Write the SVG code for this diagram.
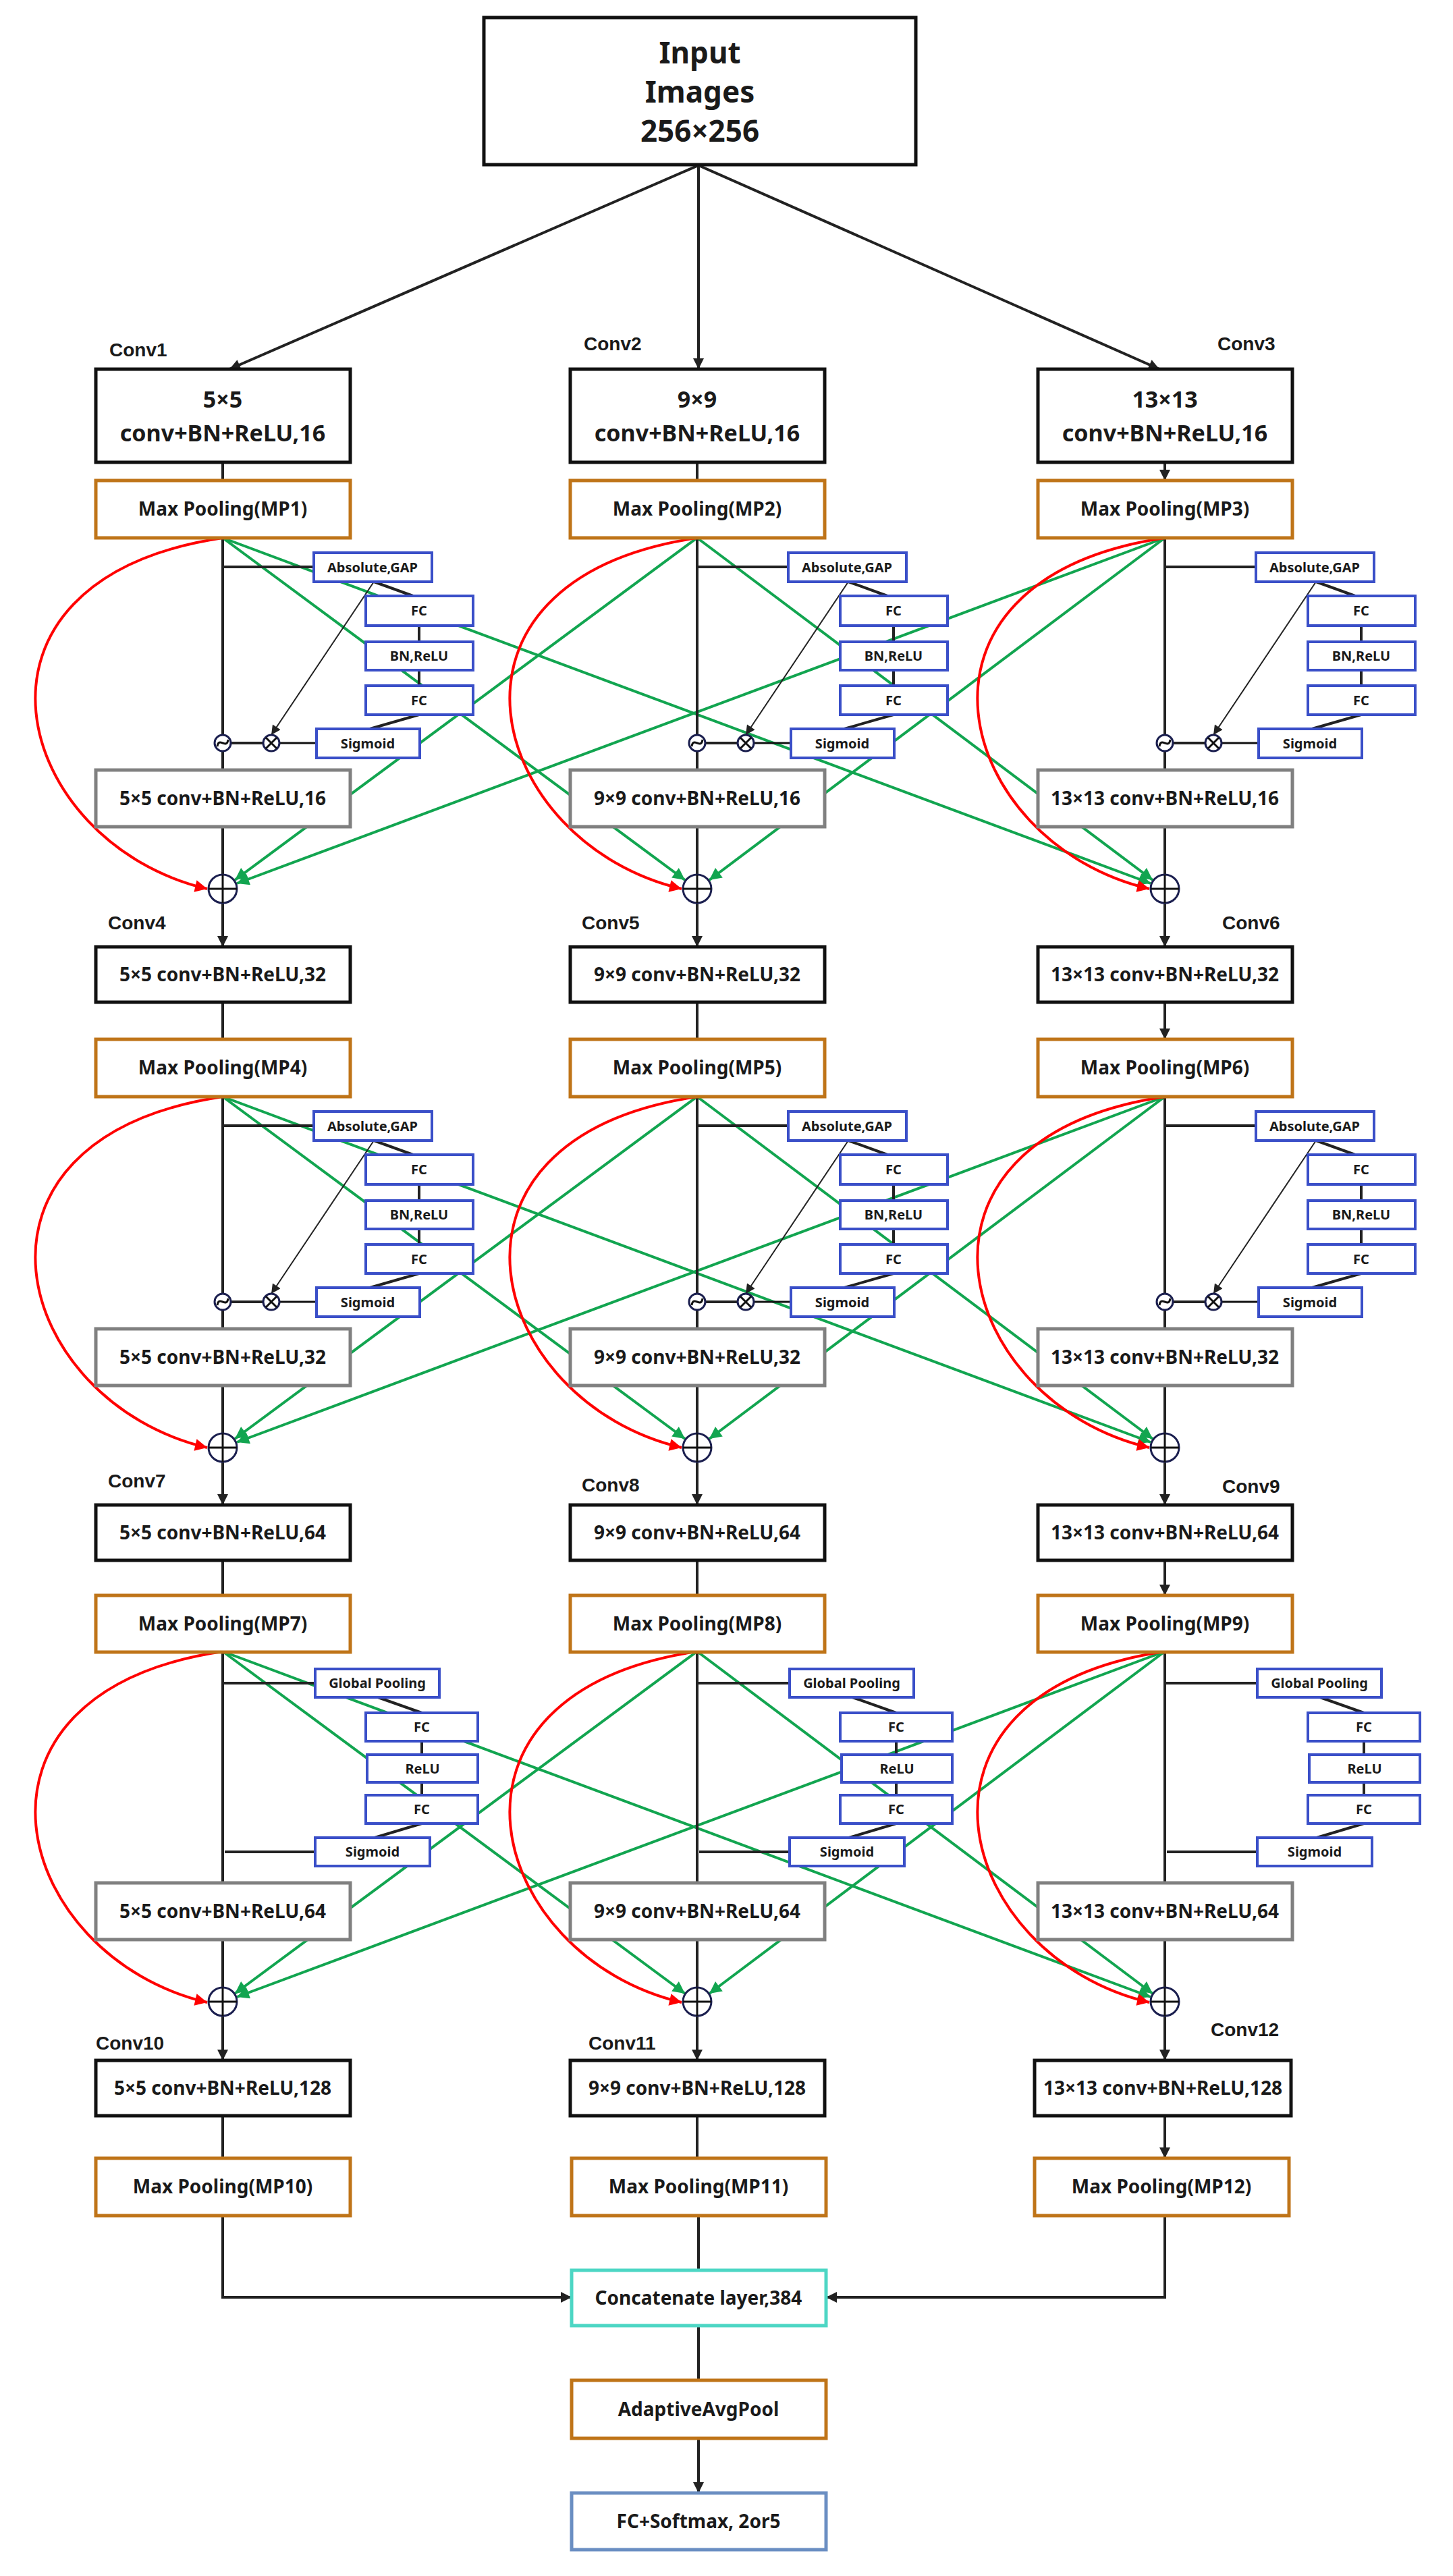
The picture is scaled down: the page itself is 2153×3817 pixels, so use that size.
<svg xmlns="http://www.w3.org/2000/svg" width="2153" height="3817" viewBox="0 0 2153 3817">
<style>
text{font-family:"Noto Sans","DejaVu Sans",sans-serif;font-weight:bold;fill:#1a1a1a;text-anchor:middle}
.lbl{font-family:"Liberation Sans",Arial,sans-serif;font-size:28px;text-anchor:start}
.bk{fill:#fff;stroke:#111;stroke-width:5}
.mp{fill:#fff;stroke:#bf7418;stroke-width:5}
.gr{fill:#fff;stroke:#808080;stroke-width:5}
.se{fill:#fff;stroke:#3a4fc8;stroke-width:4}
.t28{font-size:28px}.t20{font-size:20px}
.cir{fill:#fff;stroke:#1b1f4f;stroke-width:3}
.cl{stroke:#111;stroke-width:3;fill:none}
.a{stroke:#222;stroke-width:4;fill:none;marker-end:url(#ab)}
.at{stroke:#222;stroke-width:2;fill:none;marker-end:url(#as)}
.g{stroke:#12a550;stroke-width:4;fill:none;marker-end:url(#ag)}
.r{stroke:#f00;stroke-width:4;fill:none;marker-end:url(#ar)}
</style>
<defs>
<marker id="ab" viewBox="0 0 10 10" refX="10" refY="5" markerWidth="20" markerHeight="16" markerUnits="userSpaceOnUse" orient="auto"><path d="M0,0L10,5L0,10z" fill="#222"/></marker>
<marker id="as" viewBox="0 0 10 10" refX="10" refY="5" markerWidth="18" markerHeight="14" markerUnits="userSpaceOnUse" orient="auto"><path d="M0,0L10,5L0,10z" fill="#222"/></marker>
<marker id="ag" viewBox="0 0 10 10" refX="10" refY="5" markerWidth="24" markerHeight="18" markerUnits="userSpaceOnUse" orient="auto"><path d="M0,0L10,5L0,10z" fill="#12a550"/></marker>
<marker id="ar" viewBox="0 0 10 10" refX="10" refY="5" markerWidth="24" markerHeight="18" markerUnits="userSpaceOnUse" orient="auto"><path d="M0,0L10,5L0,10z" fill="#f00"/></marker>
<g id="gx"><circle class="cir" cx="0" cy="0" r="12"/><path class="cl" d="M-8,-8L8,8M8,-8L-8,8" stroke-width="2.5"/></g>
<g id="gt"><circle class="cir" cx="0" cy="0" r="12"/><path class="cl" d="M-8,5C-6,-10 6,10 8,-5" stroke-width="2.5"/></g>
<g id="gp"><circle class="cir" cx="0" cy="0" r="21"/><path class="cl" d="M-21,0H21M0,-21V21"/></g>
</defs>
<rect width="2153" height="3817" fill="#fff"/>

<g id="connectors">
<!-- input -->
<path class="a" d="M1035,245L340,547"/>
<path class="a" d="M1035,245L1035,547"/>
<path class="a" d="M1035,245L1718,547"/>
<!-- conv to MP -->
<path class="a" d="M330,685V712M1033,685V712M1726,685V712"/>
<path class="a" d="M330,1485V1540M1033,1485V1540M1726,1485V1540"/>
<path class="a" d="M330,2312V2364M1033,2312V2364M1726,2312V2364"/>
<path class="a" d="M330,3135V3198M1033,3135V3198M1726,3135V3198"/>
<!-- green and red cross connections, rows 1-3 -->
<g id="cross1">
<path class="g" d="M330,797L1015,1304"/><path class="g" d="M330,797L1705,1309"/>
<path class="g" d="M1033,797L348,1304"/><path class="g" d="M1033,797L1708,1304"/>
<path class="g" d="M1726,797L351,1309"/><path class="g" d="M1726,797L1051,1304"/>
<path class="r" d="M330,797C-90,860 20,1250 307,1317"/>
<path class="r" d="M1033,797C613,860 723,1250 1010,1317"/>
<path class="r" d="M1726,797C1306,860 1416,1250 1703,1317"/>
</g>
<g id="cross2" transform="translate(0,828)">
<path class="g" d="M330,797L1015,1304"/><path class="g" d="M330,797L1705,1309"/>
<path class="g" d="M1033,797L348,1304"/><path class="g" d="M1033,797L1708,1304"/>
<path class="g" d="M1726,797L351,1309"/><path class="g" d="M1726,797L1051,1304"/>
<path class="r" d="M330,797C-90,860 20,1250 307,1317"/>
<path class="r" d="M1033,797C613,860 723,1250 1010,1317"/>
<path class="r" d="M1726,797C1306,860 1416,1250 1703,1317"/>
</g>
<g id="cross3" transform="translate(0,1650)">
<path class="g" d="M330,797L1015,1304"/><path class="g" d="M330,797L1705,1309"/>
<path class="g" d="M1033,797L348,1304"/><path class="g" d="M1033,797L1708,1304"/>
<path class="g" d="M1726,797L351,1309"/><path class="g" d="M1726,797L1051,1304"/>
<path class="r" d="M330,797C-90,860 20,1250 307,1317"/>
<path class="r" d="M1033,797C613,860 723,1250 1010,1317"/>
<path class="r" d="M1726,797C1306,860 1416,1250 1703,1317"/>
</g>
<!-- SE attention connectors rows 1-2 -->
<g id="se-conn-r1c1" transform="translate(330,0)">
<path class="a" d="M0,797V1089M0,840H135M224,862L282,883M291,927V951M291,993V1016M291,1059L218,1080M60,1101H12M0,1113V1141M0,1225V1296M0,1338V1403"/>
<path class="at" d="M224,862L72,1089"/><path class="cl" d="M139,1101H84" stroke-width="4"/>
</g>
<g id="se-conn-r1c2" transform="translate(1033,0)">
<path class="a" d="M0,797V1089M0,840H135M224,862L282,883M291,927V951M291,993V1016M291,1059L218,1080M60,1101H12M0,1113V1141M0,1225V1296M0,1338V1403"/>
<path class="at" d="M224,862L72,1089"/><path class="cl" d="M139,1101H84" stroke-width="4"/>
</g>
<g id="se-conn-r1c3" transform="translate(1726,0)">
<path class="a" d="M0,797V1089M0,840H135M224,862L282,883M291,927V951M291,993V1016M291,1059L218,1080M60,1101H12M0,1113V1141M0,1225V1296M0,1338V1403"/>
<path class="at" d="M224,862L72,1089"/><path class="cl" d="M139,1101H84" stroke-width="4"/>
</g>
<g id="se-conn-r2c1" transform="translate(330,828)">
<path class="a" d="M0,797V1089M0,840H135M224,862L282,883M291,927V951M291,993V1016M291,1059L218,1080M60,1101H12M0,1113V1141M0,1225V1296M0,1338V1402"/>
<path class="at" d="M224,862L72,1089"/><path class="cl" d="M139,1101H84" stroke-width="4"/>
</g>
<g id="se-conn-r2c2" transform="translate(1033,828)">
<path class="a" d="M0,797V1089M0,840H135M224,862L282,883M291,927V951M291,993V1016M291,1059L218,1080M60,1101H12M0,1113V1141M0,1225V1296M0,1338V1402"/>
<path class="at" d="M224,862L72,1089"/><path class="cl" d="M139,1101H84" stroke-width="4"/>
</g>
<g id="se-conn-r2c3" transform="translate(1726,828)">
<path class="a" d="M0,797V1089M0,840H135M224,862L282,883M291,927V951M291,993V1016M291,1059L218,1080M60,1101H12M0,1113V1141M0,1225V1296M0,1338V1402"/>
<path class="at" d="M224,862L72,1089"/><path class="cl" d="M139,1101H84" stroke-width="4"/>
</g>
<!-- row 3 SE connectors -->
<g id="se-conn-r3c1" transform="translate(330,0)">
<path class="a" d="M0,2448V2790M0,2494H137M230,2515L295,2538M295,2580V2600M295,2641V2660M295,2702L225,2723M137,2744H3M0,2874V2945M0,2987V3053"/>
</g>
<g id="se-conn-r3c2" transform="translate(1033,0)">
<path class="a" d="M0,2448V2790M0,2494H137M230,2515L295,2538M295,2580V2600M295,2641V2660M295,2702L225,2723M137,2744H3M0,2874V2945M0,2987V3053"/>
</g>
<g id="se-conn-r3c3" transform="translate(1726,0)">
<path class="a" d="M0,2448V2790M0,2494H137M230,2515L295,2538M295,2580V2600M295,2641V2660M295,2702L225,2723M137,2744H3M0,2874V2945M0,2987V3053"/>
</g>
<!-- bottom -->
<path class="a" d="M330,3283V3404H847"/>
<path class="a" d="M1726,3283V3404H1224"/>
<path class="a" d="M1035,3283V3364M1035,3446V3527M1035,3613V3694"/>
</g>

<g id="input"><rect class="bk" x="717" y="26" width="640" height="218"/>
<text x="1037" y="94" font-size="44">Input</text><text x="1037" y="152" font-size="44">Images</text><text x="1037" y="210" font-size="44">256×256</text></g>

<g id="labels">
<text class="lbl" x="162" y="528">Conv1</text><text class="lbl" x="865" y="519">Conv2</text><text class="lbl" x="1804" y="519">Conv3</text>
<text class="lbl" x="160" y="1377">Conv4</text><text class="lbl" x="862" y="1377">Conv5</text><text class="lbl" x="1811" y="1377">Conv6</text>
<text class="lbl" x="160" y="2204">Conv7</text><text class="lbl" x="862" y="2210">Conv8</text><text class="lbl" x="1811" y="2212">Conv9</text>
<text class="lbl" x="142" y="3037">Conv10</text><text class="lbl" x="872" y="3037">Conv11</text><text class="lbl" x="1794" y="3017">Conv12</text>
</g>

<!-- row 1 conv -->
<g id="conv1"><rect class="bk" x="142" y="547" width="377" height="138"/><text x="330" y="604" font-size="34">5×5</text><text x="330" y="654" font-size="34">conv+BN+ReLU,16</text></g>
<g id="conv2"><rect class="bk" x="845" y="547" width="377" height="138"/><text x="1033" y="604" font-size="34">9×9</text><text x="1033" y="654" font-size="34">conv+BN+ReLU,16</text></g>
<g id="conv3"><rect class="bk" x="1538" y="547" width="377" height="138"/><text x="1726" y="604" font-size="34">13×13</text><text x="1726" y="654" font-size="34">conv+BN+ReLU,16</text></g>

<!-- MP boxes -->
<g id="mp1"><rect class="mp" x="142" y="712" width="377" height="85"/><text class="t28" x="330" y="764">Max Pooling(MP1)</text></g>
<g id="mp2"><rect class="mp" x="845" y="712" width="377" height="85"/><text class="t28" x="1033" y="764">Max Pooling(MP2)</text></g>
<g id="mp3"><rect class="mp" x="1538" y="712" width="377" height="85"/><text class="t28" x="1726" y="764">Max Pooling(MP3)</text></g>
<g id="mp4"><rect class="mp" x="142" y="1540" width="377" height="85"/><text class="t28" x="330" y="1592">Max Pooling(MP4)</text></g>
<g id="mp5"><rect class="mp" x="845" y="1540" width="377" height="85"/><text class="t28" x="1033" y="1592">Max Pooling(MP5)</text></g>
<g id="mp6"><rect class="mp" x="1538" y="1540" width="377" height="85"/><text class="t28" x="1726" y="1592">Max Pooling(MP6)</text></g>
<g id="mp7"><rect class="mp" x="142" y="2364" width="377" height="84"/><text class="t28" x="330" y="2416">Max Pooling(MP7)</text></g>
<g id="mp8"><rect class="mp" x="845" y="2364" width="377" height="84"/><text class="t28" x="1033" y="2416">Max Pooling(MP8)</text></g>
<g id="mp9"><rect class="mp" x="1538" y="2364" width="377" height="84"/><text class="t28" x="1726" y="2416">Max Pooling(MP9)</text></g>
<g id="mp10"><rect class="mp" x="142" y="3198" width="377" height="85"/><text class="t28" x="330" y="3250">Max Pooling(MP10)</text></g>
<g id="mp11"><rect class="mp" x="847" y="3198" width="377" height="85"/><text class="t28" x="1035" y="3250">Max Pooling(MP11)</text></g>
<g id="mp12"><rect class="mp" x="1533" y="3198" width="377" height="85"/><text class="t28" x="1721" y="3250">Max Pooling(MP12)</text></g>

<!-- SE rows 1-2 -->
<g id="se-r1c1" transform="translate(330,0)">
<g id="abs1"><rect class="se" x="135" y="819" width="175" height="43"/><text class="t20" x="222" y="848">Absolute,GAP</text></g>
<g id="fc1a"><rect class="se" x="212" y="883" width="159" height="44"/><text class="t20" x="291" y="912">FC</text></g>
<g id="bn1"><rect class="se" x="212" y="951" width="159" height="42"/><text class="t20" x="291" y="979">BN,ReLU</text></g>
<g id="fc1b"><rect class="se" x="212" y="1016" width="159" height="43"/><text class="t20" x="291" y="1045">FC</text></g>
<g id="sig1"><rect class="se" x="139" y="1080" width="153" height="43"/><text class="t20" x="215" y="1109">Sigmoid</text></g>
<use href="#gx" x="72" y="1101"/><use href="#gt" x="0" y="1101"/>
</g>
<g id="se-r1c2" transform="translate(1033,0)">
<g id="abs2"><rect class="se" x="135" y="819" width="175" height="43"/><text class="t20" x="222" y="848">Absolute,GAP</text></g>
<g id="fc2a"><rect class="se" x="212" y="883" width="159" height="44"/><text class="t20" x="291" y="912">FC</text></g>
<g id="bn2"><rect class="se" x="212" y="951" width="159" height="42"/><text class="t20" x="291" y="979">BN,ReLU</text></g>
<g id="fc2b"><rect class="se" x="212" y="1016" width="159" height="43"/><text class="t20" x="291" y="1045">FC</text></g>
<g id="sig2"><rect class="se" x="139" y="1080" width="153" height="43"/><text class="t20" x="215" y="1109">Sigmoid</text></g>
<use href="#gx" x="72" y="1101"/><use href="#gt" x="0" y="1101"/>
</g>
<g id="se-r1c3" transform="translate(1726,0)">
<g id="abs3"><rect class="se" x="135" y="819" width="175" height="43"/><text class="t20" x="222" y="848">Absolute,GAP</text></g>
<g id="fc3a"><rect class="se" x="212" y="883" width="159" height="44"/><text class="t20" x="291" y="912">FC</text></g>
<g id="bn3"><rect class="se" x="212" y="951" width="159" height="42"/><text class="t20" x="291" y="979">BN,ReLU</text></g>
<g id="fc3b"><rect class="se" x="212" y="1016" width="159" height="43"/><text class="t20" x="291" y="1045">FC</text></g>
<g id="sig3"><rect class="se" x="139" y="1080" width="153" height="43"/><text class="t20" x="215" y="1109">Sigmoid</text></g>
<use href="#gx" x="72" y="1101"/><use href="#gt" x="0" y="1101"/>
</g>
<g id="se-r2c1" transform="translate(330,828)">
<g id="abs4"><rect class="se" x="135" y="819" width="175" height="43"/><text class="t20" x="222" y="848">Absolute,GAP</text></g>
<g id="fc4a"><rect class="se" x="212" y="883" width="159" height="44"/><text class="t20" x="291" y="912">FC</text></g>
<g id="bn4"><rect class="se" x="212" y="951" width="159" height="42"/><text class="t20" x="291" y="979">BN,ReLU</text></g>
<g id="fc4b"><rect class="se" x="212" y="1016" width="159" height="43"/><text class="t20" x="291" y="1045">FC</text></g>
<g id="sig4"><rect class="se" x="139" y="1080" width="153" height="43"/><text class="t20" x="215" y="1109">Sigmoid</text></g>
<use href="#gx" x="72" y="1101"/><use href="#gt" x="0" y="1101"/>
</g>
<g id="se-r2c2" transform="translate(1033,828)">
<g id="abs5"><rect class="se" x="135" y="819" width="175" height="43"/><text class="t20" x="222" y="848">Absolute,GAP</text></g>
<g id="fc5a"><rect class="se" x="212" y="883" width="159" height="44"/><text class="t20" x="291" y="912">FC</text></g>
<g id="bn5"><rect class="se" x="212" y="951" width="159" height="42"/><text class="t20" x="291" y="979">BN,ReLU</text></g>
<g id="fc5b"><rect class="se" x="212" y="1016" width="159" height="43"/><text class="t20" x="291" y="1045">FC</text></g>
<g id="sig5"><rect class="se" x="139" y="1080" width="153" height="43"/><text class="t20" x="215" y="1109">Sigmoid</text></g>
<use href="#gx" x="72" y="1101"/><use href="#gt" x="0" y="1101"/>
</g>
<g id="se-r2c3" transform="translate(1726,828)">
<g id="abs6"><rect class="se" x="135" y="819" width="175" height="43"/><text class="t20" x="222" y="848">Absolute,GAP</text></g>
<g id="fc6a"><rect class="se" x="212" y="883" width="159" height="44"/><text class="t20" x="291" y="912">FC</text></g>
<g id="bn6"><rect class="se" x="212" y="951" width="159" height="42"/><text class="t20" x="291" y="979">BN,ReLU</text></g>
<g id="fc6b"><rect class="se" x="212" y="1016" width="159" height="43"/><text class="t20" x="291" y="1045">FC</text></g>
<g id="sig6"><rect class="se" x="139" y="1080" width="153" height="43"/><text class="t20" x="215" y="1109">Sigmoid</text></g>
<use href="#gx" x="72" y="1101"/><use href="#gt" x="0" y="1101"/>
</g>

<!-- SE row 3 -->
<g id="se-r3c1" transform="translate(330,0)">
<g id="gp7"><rect class="se" x="137" y="2473" width="184" height="42"/><text class="t20" x="229" y="2501">Global Pooling</text></g>
<g id="fc7a"><rect class="se" x="212" y="2538" width="166" height="42"/><text class="t20" x="295" y="2566">FC</text></g>
<g id="relu7"><rect class="se" x="214" y="2600" width="164" height="41"/><text class="t20" x="296" y="2628">ReLU</text></g>
<g id="fc7b"><rect class="se" x="212" y="2660" width="166" height="42"/><text class="t20" x="295" y="2688">FC</text></g>
<g id="sig7"><rect class="se" x="137" y="2723" width="170" height="42"/><text class="t20" x="222" y="2751">Sigmoid</text></g>
</g>
<g id="se-r3c2" transform="translate(1033,0)">
<g id="gp8"><rect class="se" x="137" y="2473" width="184" height="42"/><text class="t20" x="229" y="2501">Global Pooling</text></g>
<g id="fc8a"><rect class="se" x="212" y="2538" width="166" height="42"/><text class="t20" x="295" y="2566">FC</text></g>
<g id="relu8"><rect class="se" x="214" y="2600" width="164" height="41"/><text class="t20" x="296" y="2628">ReLU</text></g>
<g id="fc8b"><rect class="se" x="212" y="2660" width="166" height="42"/><text class="t20" x="295" y="2688">FC</text></g>
<g id="sig8"><rect class="se" x="137" y="2723" width="170" height="42"/><text class="t20" x="222" y="2751">Sigmoid</text></g>
</g>
<g id="se-r3c3" transform="translate(1726,0)">
<g id="gp9"><rect class="se" x="137" y="2473" width="184" height="42"/><text class="t20" x="229" y="2501">Global Pooling</text></g>
<g id="fc9a"><rect class="se" x="212" y="2538" width="166" height="42"/><text class="t20" x="295" y="2566">FC</text></g>
<g id="relu9"><rect class="se" x="214" y="2600" width="164" height="41"/><text class="t20" x="296" y="2628">ReLU</text></g>
<g id="fc9b"><rect class="se" x="212" y="2660" width="166" height="42"/><text class="t20" x="295" y="2688">FC</text></g>
<g id="sig9"><rect class="se" x="137" y="2723" width="170" height="42"/><text class="t20" x="222" y="2751">Sigmoid</text></g>
</g>

<!-- gray conv boxes -->
<g id="g1"><rect class="gr" x="142" y="1141" width="377" height="84"/><text class="t28" x="330" y="1193">5×5 conv+BN+ReLU,16</text></g>
<g id="g2"><rect class="gr" x="845" y="1141" width="377" height="84"/><text class="t28" x="1033" y="1193">9×9 conv+BN+ReLU,16</text></g>
<g id="g3"><rect class="gr" x="1538" y="1141" width="377" height="84"/><text class="t28" x="1726" y="1193">13×13 conv+BN+ReLU,16</text></g>
<g id="g4"><rect class="gr" x="142" y="1969" width="377" height="84"/><text class="t28" x="330" y="2021">5×5 conv+BN+ReLU,32</text></g>
<g id="g5"><rect class="gr" x="845" y="1969" width="377" height="84"/><text class="t28" x="1033" y="2021">9×9 conv+BN+ReLU,32</text></g>
<g id="g6"><rect class="gr" x="1538" y="1969" width="377" height="84"/><text class="t28" x="1726" y="2021">13×13 conv+BN+ReLU,32</text></g>
<g id="g7"><rect class="gr" x="142" y="2790" width="377" height="84"/><text class="t28" x="330" y="2842">5×5 conv+BN+ReLU,64</text></g>
<g id="g8"><rect class="gr" x="845" y="2790" width="377" height="84"/><text class="t28" x="1033" y="2842">9×9 conv+BN+ReLU,64</text></g>
<g id="g9"><rect class="gr" x="1538" y="2790" width="377" height="84"/><text class="t28" x="1726" y="2842">13×13 conv+BN+ReLU,64</text></g>

<!-- sum nodes -->
<g id="sum1"><use href="#gp" x="330" y="1317"/></g><g id="sum2"><use href="#gp" x="1033" y="1317"/></g><g id="sum3"><use href="#gp" x="1726" y="1317"/></g>
<g id="sum4"><use href="#gp" x="330" y="2145"/></g><g id="sum5"><use href="#gp" x="1033" y="2145"/></g><g id="sum6"><use href="#gp" x="1726" y="2145"/></g>
<g id="sum7"><use href="#gp" x="330" y="2966"/></g><g id="sum8"><use href="#gp" x="1033" y="2966"/></g><g id="sum9"><use href="#gp" x="1726" y="2966"/></g>

<!-- conv rows 2-4 -->
<g id="conv4"><rect class="bk" x="142" y="1403" width="377" height="82"/><text class="t28" x="330" y="1454">5×5 conv+BN+ReLU,32</text></g>
<g id="conv5"><rect class="bk" x="845" y="1403" width="377" height="82"/><text class="t28" x="1033" y="1454">9×9 conv+BN+ReLU,32</text></g>
<g id="conv6"><rect class="bk" x="1538" y="1403" width="377" height="82"/><text class="t28" x="1726" y="1454">13×13 conv+BN+ReLU,32</text></g>
<g id="conv7"><rect class="bk" x="142" y="2230" width="377" height="82"/><text class="t28" x="330" y="2281">5×5 conv+BN+ReLU,64</text></g>
<g id="conv8"><rect class="bk" x="845" y="2230" width="377" height="82"/><text class="t28" x="1033" y="2281">9×9 conv+BN+ReLU,64</text></g>
<g id="conv9"><rect class="bk" x="1538" y="2230" width="377" height="82"/><text class="t28" x="1726" y="2281">13×13 conv+BN+ReLU,64</text></g>
<g id="conv10"><rect class="bk" x="142" y="3053" width="377" height="82"/><text class="t28" x="330" y="3104">5×5 conv+BN+ReLU,128</text></g>
<g id="conv11"><rect class="bk" x="845" y="3053" width="377" height="82"/><text class="t28" x="1033" y="3104">9×9 conv+BN+ReLU,128</text></g>
<g id="conv12"><rect class="bk" x="1533" y="3053" width="380" height="82"/><text class="t28" x="1723" y="3104">13×13 conv+BN+ReLU,128</text></g>

<!-- head -->
<g id="concat"><rect fill="#fff" stroke="#4dd6c4" stroke-width="5" x="847" y="3364" width="377" height="82"/><text class="t28" x="1035" y="3415">Concatenate layer,384</text></g>
<g id="avgpool"><rect class="mp" x="847" y="3527" width="377" height="86"/><text class="t28" x="1035" y="3580">AdaptiveAvgPool</text></g>
<g id="fcsoft"><rect fill="#fff" stroke="#6a8ec2" stroke-width="5" x="847" y="3694" width="377" height="84"/><text class="t28" x="1035" y="3746">FC+Softmax, 2or5</text></g>
</svg>
